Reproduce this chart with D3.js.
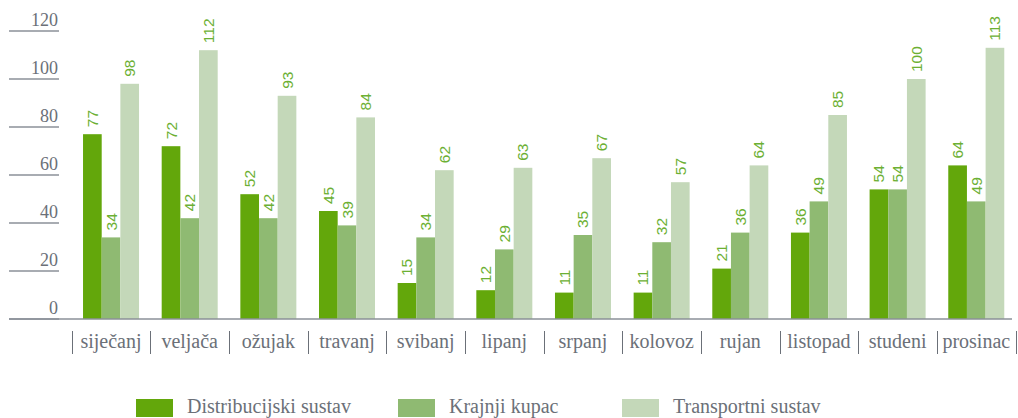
<!DOCTYPE html>
<html>
<head>
<meta charset="utf-8">
<script src="https://cdn.jsdelivr.net/npm/d3@7"></script>
<style>
  body { margin: 0; background: #fff; }
  svg { display: block; }
  svg text { font-family: "Liberation Serif", "Times New Roman", serif; fill: #6b7078; }
  svg text.val { font-family: "Liberation Sans", Arial, sans-serif; fill: #6cb033; font-size: 15.5px; }
</style>
</head>
<body>
<svg></svg>
<script>
// podaci
let months = ["siječanj", "veljača", "ožujak", "travanj", "svibanj", "lipanj",
  "srpanj", "kolovoz", "rujan", "listopad", "studeni", "prosinac"];
let seriesNames = ["Distribucijski sustav", "Krajnji kupac", "Transportni sustav"];
let distribucijski = [77, 72, 52, 45, 15, 12, 11, 11, 21, 36, 54, 64];
let krajnji = [34, 42, 42, 39, 34, 29, 35, 32, 36, 49, 54, 49];
let transportni = [98, 112, 93, 84, 62, 63, 67, 57, 64, 85, 100, 113];
let yTicks = [0, 20, 40, 60, 80, 100, 120];
let colors = ["#63a70b", "#8fba72", "#c4d8b9"];

let width = 1018;
let height = 418;
let svg = d3.select("svg").attr("width", width).attr("height", height);

let values = [distribucijski, krajnji, transportni];
let rows = months.map((m, i) => ({
  month: m,
  vals: seriesNames.map((s, j) => ({ key: s, value: values[j][i], color: colors[j] }))
}));

// skale
let scaleX = d3.scaleBand().domain(months).range([71.7, 1015.6])
  .paddingInner(0.288).paddingOuter(0.144);
let scaleInner = d3.scaleBand().domain(seriesNames).range([0, scaleX.bandwidth()]);
let scaleY = d3.scaleLinear().domain([0, 120]).range([319, 31]);

// os OY - kratke crte s oznakama
let axisY = svg.append("g").attr("class", "y-axis");
axisY.selectAll("line")
  .data(yTicks)
  .enter()
  .append("line")
  .attr("x1", 9)
  .attr("x2", 59)
  .attr("y1", (d) => scaleY(d))
  .attr("y2", (d) => scaleY(d))
  .style("stroke", "#8b9098")
  .style("stroke-width", 1.5);
axisY.selectAll("text")
  .data(yTicks)
  .enter()
  .append("text")
  .attr("x", 58)
  .attr("y", (d) => scaleY(d) - 5)
  .attr("text-anchor", "end")
  .style("font-size", "18px")
  .text((d) => d);

// stupci
let groups = svg.selectAll(".grp")
  .data(rows)
  .enter()
  .append("g")
  .attr("class", "grp")
  .attr("transform", (d) => `translate(${scaleX(d.month)}, 0)`);

groups.selectAll("rect")
  .data((d) => d.vals)
  .enter()
  .append("rect")
  .attr("x", (d) => scaleInner(d.key))
  .attr("y", (d) => scaleY(d.value))
  .attr("width", scaleInner.bandwidth())
  .attr("height", (d) => scaleY(0) - scaleY(d.value))
  .style("fill", (d) => d.color);

// vrijednosti iznad stupaca
groups.selectAll("text")
  .data((d) => d.vals)
  .enter()
  .append("text")
  .attr("class", "val")
  .attr("transform", (d) =>
    `translate(${scaleInner(d.key) + scaleInner.bandwidth() / 2 + 5.5}, ${scaleY(d.value) - 7}) rotate(-90)`)
  .text((d) => d.value);

// osnovna linija preko cijele širine
svg.append("line")
  .attr("x1", 9).attr("x2", 1012)
  .attr("y1", scaleY(0)).attr("y2", scaleY(0))
  .style("stroke", "#8b9098")
  .style("stroke-width", 1.5);

// oznake mjeseci
let labelY = 348;
svg.selectAll(".month")
  .data(months)
  .enter()
  .append("text")
  .attr("class", "month")
  .attr("x", (d) => scaleX(d) + scaleX.bandwidth() / 2)
  .attr("y", labelY)
  .attr("text-anchor", "middle")
  .style("font-size", "20px")
  .text((d) => d);

// razdjelnici između mjeseci
let gap = scaleX.step() * scaleX.paddingInner();
let sepX = months.map((m) => scaleX(m) - gap / 2);
sepX.push(scaleX(months[months.length - 1]) + scaleX.bandwidth() + gap / 2);
svg.selectAll(".sep")
  .data(sepX)
  .enter()
  .append("line")
  .attr("class", "sep")
  .attr("x1", (d) => Math.round(d) + 0.5)
  .attr("x2", (d) => Math.round(d) + 0.5)
  .attr("y1", 331)
  .attr("y2", 354)
  .style("stroke", "#6b7078")
  .style("stroke-width", 1);

// legenda
let legendX = [136, 398, 622];
let legend = svg.selectAll(".legend")
  .data(seriesNames)
  .enter()
  .append("g")
  .attr("class", "legend")
  .attr("transform", (d, i) => `translate(${legendX[i]}, 399)`);
legend.append("rect")
  .attr("width", 37)
  .attr("height", 18)
  .style("fill", (d, i) => colors[i]);
legend.append("text")
  .attr("x", 51)
  .attr("y", 14)
  .style("font-size", "20px")
  .text((d) => d);
</script>
</body>
</html>
